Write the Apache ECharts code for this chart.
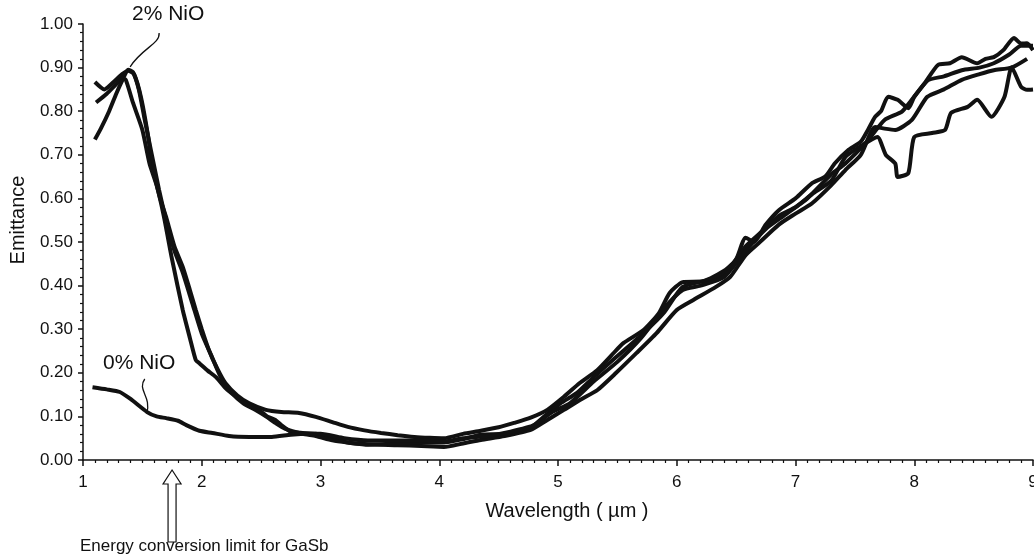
<!DOCTYPE html>
<html>
<head>
<meta charset="utf-8">
<title>Emittance vs wavelength</title>
<script src="https://cdn.jsdelivr.net/npm/echarts@6/dist/echarts.min.js"></script>
<style>
  html, body { margin: 0; padding: 0; background: #fff; }
  #chart { width: 1034px; height: 560px; }
</style>
</head>
<body>
<div id="chart"></div>
<script>
// wavelength (um), emittance
const nio2a = [
  [1.10, 0.867], [1.18, 0.850], [1.25, 0.865], [1.33, 0.885], [1.38, 0.893], [1.43, 0.885],
  [1.49, 0.83], [1.55, 0.74], [1.58, 0.68], [1.65, 0.60], [1.70, 0.557], [1.77, 0.49],
  [1.84, 0.443], [1.90, 0.39], [1.95, 0.344], [2.00, 0.30], [2.06, 0.252], [2.13, 0.21],
  [2.20, 0.176], [2.30, 0.148], [2.40, 0.13], [2.54, 0.115], [2.67, 0.11], [2.82, 0.108],
  [2.96, 0.099], [3.10, 0.087], [3.23, 0.076], [3.37, 0.068], [3.51, 0.062], [3.65, 0.057],
  [3.79, 0.053], [3.92, 0.051], [4.04, 0.05], [4.20, 0.06], [4.35, 0.067], [4.50, 0.075],
  [4.63, 0.085], [4.77, 0.097], [4.91, 0.115], [5.05, 0.145], [5.18, 0.176], [5.33, 0.206],
  [5.45, 0.24], [5.55, 0.268], [5.72, 0.298], [5.85, 0.337], [5.94, 0.383], [6.05, 0.408],
  [6.22, 0.41], [6.41, 0.436], [6.50, 0.46], [6.58, 0.51], [6.65, 0.50], [6.75, 0.54],
  [6.86, 0.573], [7.00, 0.60], [7.14, 0.635], [7.25, 0.65], [7.33, 0.68], [7.44, 0.71],
  [7.55, 0.73], [7.61, 0.757], [7.67, 0.787], [7.72, 0.80], [7.78, 0.833], [7.86, 0.826],
  [7.95, 0.807], [8.00, 0.833], [8.09, 0.865], [8.20, 0.906], [8.30, 0.91], [8.40, 0.924],
  [8.53, 0.91], [8.60, 0.92], [8.67, 0.924], [8.75, 0.94], [8.84, 0.968], [8.90, 0.955],
  [8.95, 0.956], [9.00, 0.94]
]
const nio2b = [
  [1.11, 0.82], [1.20, 0.84], [1.28, 0.862], [1.33, 0.875], [1.36, 0.872], [1.42, 0.82],
  [1.50, 0.757], [1.56, 0.68], [1.62, 0.63], [1.68, 0.56], [1.75, 0.46], [1.84, 0.344],
  [1.90, 0.28], [1.95, 0.229], [1.98, 0.222], [2.05, 0.205], [2.12, 0.19], [2.20, 0.165],
  [2.29, 0.145], [2.38, 0.128], [2.48, 0.115], [2.55, 0.10], [2.62, 0.092], [2.67, 0.08],
  [2.75, 0.065], [2.85, 0.062], [2.96, 0.06], [3.10, 0.05], [3.23, 0.04], [3.40, 0.036],
  [3.65, 0.034], [3.85, 0.032], [4.04, 0.03], [4.20, 0.038], [4.35, 0.046], [4.55, 0.055],
  [4.77, 0.069], [4.90, 0.09], [5.05, 0.115], [5.20, 0.14], [5.33, 0.16], [5.49, 0.2],
  [5.66, 0.245], [5.83, 0.291], [6.00, 0.344], [6.14, 0.367], [6.33, 0.397], [6.45, 0.42],
  [6.58, 0.47], [6.70, 0.50], [6.86, 0.54], [7.00, 0.565], [7.14, 0.589], [7.30, 0.63],
  [7.42, 0.665], [7.55, 0.70], [7.67, 0.764], [7.75, 0.76], [7.84, 0.757], [7.98, 0.78],
  [8.11, 0.833], [8.25, 0.85], [8.40, 0.872], [8.55, 0.885], [8.67, 0.894], [8.82, 0.90],
  [8.95, 0.92]
]
const nio2c = [
  [1.10, 0.735], [1.15, 0.76], [1.22, 0.80], [1.28, 0.84], [1.33, 0.87], [1.38, 0.895],
  [1.42, 0.89], [1.47, 0.85], [1.52, 0.78], [1.58, 0.70], [1.64, 0.62], [1.70, 0.55],
  [1.77, 0.48], [1.84, 0.43], [1.92, 0.36], [2.00, 0.29], [2.08, 0.24], [2.16, 0.19],
  [2.25, 0.155], [2.35, 0.13], [2.45, 0.115], [2.54, 0.10], [2.62, 0.085], [2.70, 0.072],
  [2.85, 0.06], [2.96, 0.055], [3.10, 0.045], [3.23, 0.04], [3.40, 0.035], [3.65, 0.038],
  [3.85, 0.04], [4.04, 0.04], [4.20, 0.048], [4.35, 0.058], [4.55, 0.06], [4.77, 0.075],
  [4.88, 0.099], [5.02, 0.13], [5.16, 0.154], [5.30, 0.19], [5.49, 0.236], [5.72, 0.291],
  [5.89, 0.337], [6.05, 0.397], [6.27, 0.413], [6.41, 0.429], [6.58, 0.49], [6.70, 0.52],
  [6.86, 0.56], [7.00, 0.58], [7.14, 0.61], [7.30, 0.64], [7.42, 0.695], [7.55, 0.72],
  [7.69, 0.741], [7.76, 0.70], [7.84, 0.68], [7.86, 0.649], [7.95, 0.658], [8.00, 0.741],
  [8.15, 0.75], [8.26, 0.757], [8.31, 0.796], [8.45, 0.81], [8.53, 0.826], [8.65, 0.787],
  [8.76, 0.833], [8.82, 0.901], [8.90, 0.856], [8.95, 0.849], [9.00, 0.85]
]
const nio0 = [
  [1.08, 0.167], [1.20, 0.162], [1.31, 0.156], [1.40, 0.14], [1.54, 0.11], [1.62, 0.10],
  [1.70, 0.096], [1.80, 0.09], [1.87, 0.08], [1.98, 0.067], [2.09, 0.062], [2.23, 0.055],
  [2.40, 0.053], [2.59, 0.053], [2.75, 0.058], [2.90, 0.06], [3.00, 0.06], [3.20, 0.05],
  [3.40, 0.045], [3.60, 0.045], [3.80, 0.045], [4.04, 0.042], [4.20, 0.05], [4.40, 0.055],
  [4.60, 0.065], [4.80, 0.08], [4.95, 0.11], [5.10, 0.13], [5.30, 0.18], [5.50, 0.225],
  [5.70, 0.28], [5.90, 0.35], [6.05, 0.39], [6.20, 0.40], [6.40, 0.42], [6.58, 0.48],
  [6.75, 0.53], [6.90, 0.56], [7.10, 0.60], [7.30, 0.655], [7.42, 0.68], [7.60, 0.73],
  [7.75, 0.78], [7.90, 0.80], [8.11, 0.87], [8.25, 0.88], [8.40, 0.894], [8.55, 0.90],
  [8.67, 0.91], [8.80, 0.93], [8.90, 0.95], [9.00, 0.95]
]
const xRange = [1, 9]
const yRange = [0, 1]
const gasbLimit = 1.75 // um, where the arrow points

const font = 'Liberation Sans, Arial, sans-serif'
const chart = echarts.init(document.getElementById('chart'))

function line(name, data) {
  return {
    name: name,
    type: 'line',
    data: data,
    showSymbol: false,
    smooth: 0.2,
    lineStyle: { color: '#111', width: 4 },
    z: 3
  }
}

chart.setOption({
  animation: false,
  backgroundColor: '#fff',
  grid: { left: 83, right: 1, top: 24, bottom: 100, outerBoundsMode: 'none' },
  xAxis: {
    type: 'value',
    min: xRange[0],
    max: xRange[1],
    interval: 1,
    axisLine: { lineStyle: { color: '#111', width: 1.5 } },
    axisTick: { length: 6, lineStyle: { color: '#111', width: 1.5 } },
    minorTick: { show: true, splitNumber: 10, length: 3, lineStyle: { color: '#111', width: 1.2 } },
    axisLabel: { color: '#111', fontSize: 17, fontFamily: font, margin: 14, showMaxLabel: true },
    splitLine: { show: false }
  },
  yAxis: {
    type: 'value',
    min: yRange[0],
    max: yRange[1],
    interval: 0.1,
    axisLine: { show: true, lineStyle: { color: '#111', width: 1.5 } },
    axisTick: { show: true, length: 5, lineStyle: { color: '#111', width: 1.5 } },
    minorTick: { show: true, splitNumber: 5, length: 3, lineStyle: { color: '#111', width: 1.2 } },
    axisLabel: {
      color: '#111',
      fontSize: 17,
      fontFamily: font,
      margin: 10,
      formatter: (v) => v.toFixed(2)
    },
    splitLine: { show: false }
  },
  series: [
    line('2% NiO a', nio2a),
    line('2% NiO b', nio2b),
    line('2% NiO c', nio2c),
    line('0% NiO', nio0)
  ]
})

// annotations: axis titles, labels with leader lines, and the GaSb arrow
const peak = chart.convertToPixel({ gridIndex: 0 }, [1.38, 0.895])
const tail = chart.convertToPixel({ gridIndex: 0 }, [1.68, 0.10])
const arrowX = chart.convertToPixel({ gridIndex: 0 }, [gasbLimit, 0])[0]
const axisY = chart.convertToPixel({ gridIndex: 0 }, [1, 0])[1]

chart.setOption({
  graphic: [
    {
      type: 'text',
      x: 18,
      y: 220,
      rotation: Math.PI / 2,
      style: { text: 'Emittance', font: '20px ' + font, fill: '#111', align: 'center', verticalAlign: 'middle' }
    },
    {
      type: 'text',
      x: 567,
      y: 511,
      style: { text: 'Wavelength ( µm )', font: '20px ' + font, fill: '#111', align: 'center', verticalAlign: 'middle' }
    },
    {
      type: 'text',
      left: 132,
      top: 4,
      style: { text: '2% NiO', font: '21px ' + font, fill: '#111' }
    },
    {
      type: 'bezierCurve',
      shape: { x1: peak[0] + 31, y1: 33, cpx1: peak[0] + 32, cpy1: 44, cpx2: peak[0] + 14, cpy2: 48, x2: peak[0] + 2, y2: peak[1] - 3 },
      style: { stroke: '#111', lineWidth: 1.3, fill: null }
    },
    {
      type: 'text',
      left: 103,
      top: 353,
      style: { text: '0% NiO', font: '21px ' + font, fill: '#111' }
    },
    {
      type: 'bezierCurve',
      shape: { x1: tail[0] - 19, y1: 379, cpx1: tail[0] - 27, cpy1: 390, cpx2: tail[0] - 12, cpy2: 396, x2: tail[0] - 17, y2: tail[1] - 3 },
      style: { stroke: '#111', lineWidth: 1.3, fill: null }
    },
    {
      type: 'polygon',
      shape: {
        points: [
          [arrowX, axisY + 10], [arrowX - 9, axisY + 24], [arrowX - 4, axisY + 24],
          [arrowX - 4, axisY + 82], [arrowX + 4, axisY + 82], [arrowX + 4, axisY + 24],
          [arrowX + 9, axisY + 24]
        ]
      },
      style: { fill: '#fff', stroke: '#111', lineWidth: 1.2 }
    },
    {
      type: 'text',
      left: 80,
      top: 538,
      style: { text: 'Energy conversion limit for GaSb', font: '17px ' + font, fill: '#111' }
    }
  ]
})
</script>
</body>
</html>
